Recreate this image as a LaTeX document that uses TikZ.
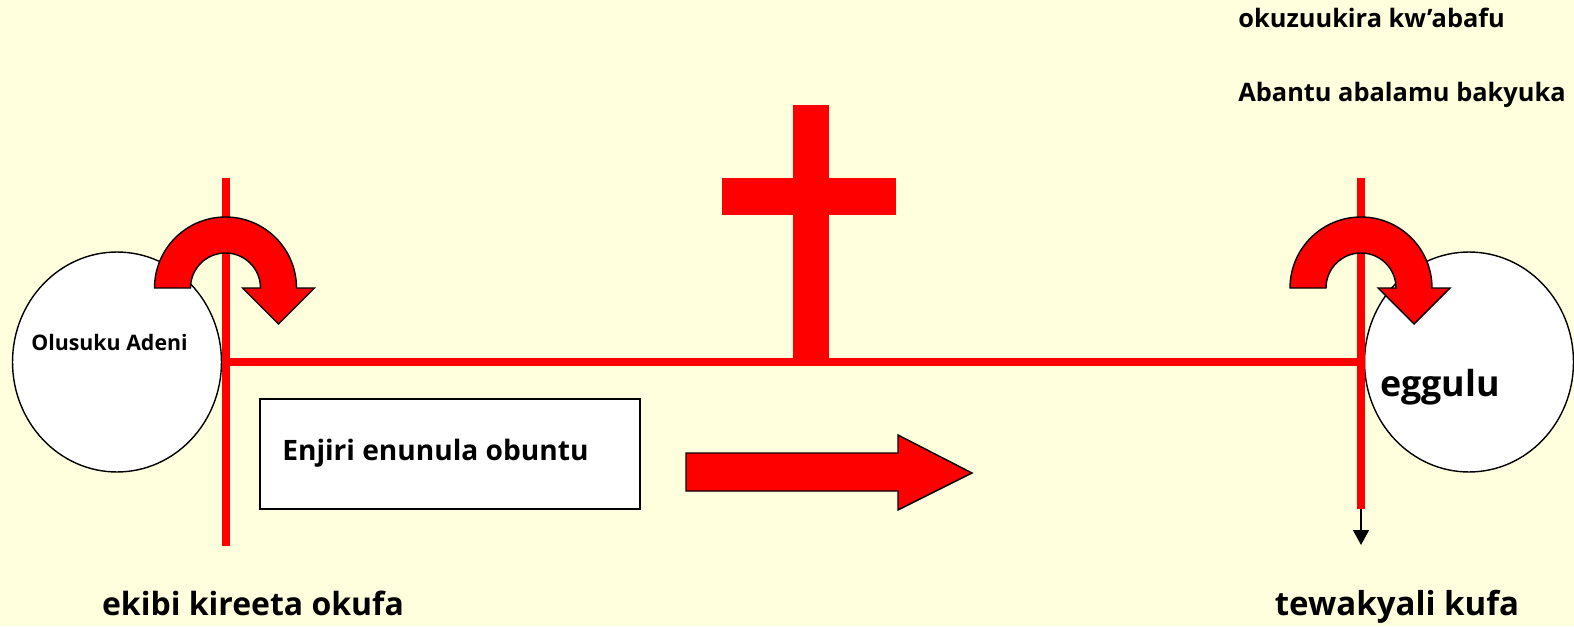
\documentclass[tikz,border=0pt]{standalone}
\usepackage{fontspec}
\setmainfont{Open Sans}
\usetikzlibrary{arrows.meta, shapes.geometric}
\definecolor{paper}{RGB}{255,255,221}

\tikzset{
	redline/.style={draw=red, line width=0.16cm},
	redbar/.style={fill=red},
	outline/.style={draw=black, line width=0.8pt},
	worldcircle/.style={ellipse, outline, fill=white, minimum width=4.18cm, minimum height=4.4cm, inner sep=0pt},
	uturn/.pic={
		\draw[outline, fill=red] (-71,0) arc[start angle=180, end angle=0, radius=71] -- (89,0) -- (53,-36) -- (17,0) -- (35,0) arc[start angle=0, end angle=180, radius=35] -- cycle;
	}
}

\begin{document}
\begin{tikzpicture}[x=0.02cm, y=0.02cm, >={Triangle[length=8.5pt, width=9pt]}, every node/.style={font=\bfseries}]
	\useasboundingbox (0,0) rectangle (1574,626);
	\fill[paper] (0,0) rectangle (1574,626);

	% the two worlds
	\node[worldcircle] (eden) at (117,264) {};
	\node[worldcircle] (heaven) at (1469,264) {};

	% the time line
	\coordinate (fallTop) at (225.5,448);
	\coordinate (fallBot) at (225.5,80);
	\coordinate (fallMid) at (225.5,264);
	\coordinate (riseTop) at (1361,448);
	\coordinate (riseBot) at (1361,117);
	\coordinate (riseMid) at (1361,264);
	\coordinate (riseEnd) at (1361,81);
	\draw[redline] (fallTop) -- (fallBot);
	\draw[redline] (riseTop) -- (riseBot);
	\draw[redline] (fallMid) -- (riseMid);
	\draw[->, line width=1.1pt] (riseBot) -- (riseEnd);

	% the cross
	\fill[redbar] (793,521) rectangle (829,264);
	\fill[redbar] (722,448) rectangle (896,411);

	% the turning points
	\pic at (225.5,338) {uturn};
	\pic at (1361,338) {uturn};

	% the gospel
	\node[outline, fill=white, minimum width=7.6cm, minimum height=2.2cm, inner sep=0pt] (gospelbox) at (450,172) {};
	\draw[outline, fill=red] (686,173) -- (898,173) -- (898,191) -- (972,153) -- (898,116) -- (898,135) -- (686,135) -- cycle;

	% labels
	\node[anchor=base, font=\bfseries\fontsize{12.15}{14}\selectfont] (olusuku) at (109.5,276) {Olusuku Adeni};
	\node[anchor=base, font=\bfseries\fontsize{20.4}{23}\selectfont] (eggulu) at (1440,230) {eggulu};
	\node[anchor=base west, inner xsep=0pt, font=\bfseries\fontsize{16}{19}\selectfont] (enjiri) at (282,166) {Enjiri enunula obuntu};
	\node[anchor=base, font=\bfseries\fontsize{18.2}{22}\selectfont] (ekibi) at (253,11) {ekibi kireeta okufa};
	\node[anchor=base, font=\bfseries\fontsize{18.8}{22}\selectfont] (tewakyali) at (1397,11) {tewakyali kufa};
	\node[anchor=base west, inner xsep=0pt, font=\bfseries\fontsize{14.45}{17}\selectfont] (okuzuukira) at (1238,598) {okuzuukira kw’abafu};
	\node[anchor=base west, inner xsep=0pt, font=\bfseries\fontsize{14.45}{17}\selectfont] (abantu) at (1238,524) {Abantu abalamu bakyuka};
\end{tikzpicture}
\end{document}
